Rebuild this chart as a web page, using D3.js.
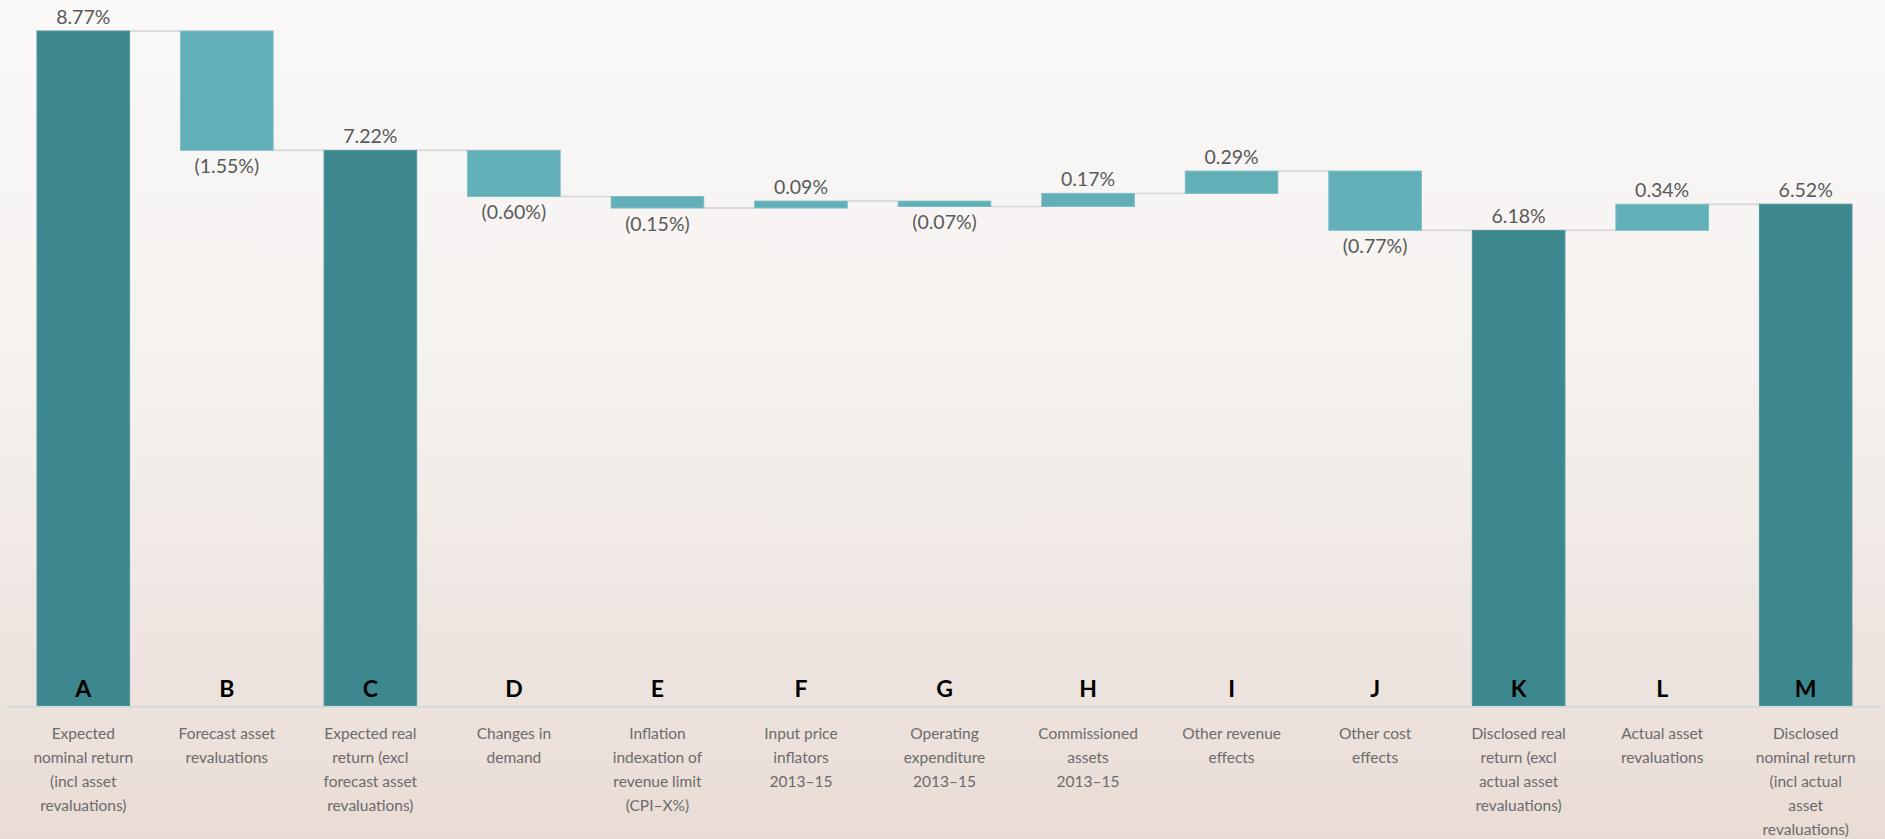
<!DOCTYPE html>
<html>
<head>
<meta charset="utf-8">
<script src="https://cdn.jsdelivr.net/npm/d3@7"></script>
<style>
  html, body { margin: 0; padding: 0; }
  body { width: 1885px; height: 839px; overflow: hidden; }
</style>
</head>
<body>
<svg id="chart" width="1885" height="839"></svg>
<script>
// waterfall steps
const letters = ["A","B","C","D","E","F","G","H","I","J","K","L","M"];
const values = [8.77, -1.55, 7.22, -0.60, -0.15, 0.09, -0.07, 0.17, 0.29, -0.77, 6.18, 0.34, 6.52];
const isTotal = [true, false, true, false, false, false, false, false, false, false, true, false, true];
const categories = [
  ["Expected", "nominal return", "(incl asset", "revaluations)"],
  ["Forecast asset", "revaluations"],
  ["Expected real", "return (excl", "forecast asset", "revaluations)"],
  ["Changes in", "demand"],
  ["Inflation", "indexation of", "revenue limit", "(CPI\u2013X%)"],
  ["Input price", "inflators", "2013\u201315"],
  ["Operating", "expenditure", "2013\u201315"],
  ["Commissioned", "assets", "2013\u201315"],
  ["Other revenue", "effects"],
  ["Other cost", "effects"],
  ["Disclosed real", "return (excl", "actual asset", "revaluations)"],
  ["Actual asset", "revaluations"],
  ["Disclosed", "nominal return", "(incl actual", "asset", "revaluations)"]
];

const W = 1885, H = 839;
const baseY = 706;
const font = "Lato, 'Open Sans', sans-serif";

var svg = d3.select("#chart");

// background wash
var defs = svg.append("defs");
var grad = defs.append("linearGradient")
    .attr("id", "bg").attr("x1", 0).attr("y1", 0).attr("x2", 0).attr("y2", 1);
grad.append("stop").attr("offset", "0%").attr("stop-color", "#faf9f8");
grad.append("stop").attr("offset", "45%").attr("stop-color", "#f5f1ef");
grad.append("stop").attr("offset", "100%").attr("stop-color", "#e9dcd5");
svg.append("rect").attr("width", W).attr("height", H).attr("fill", "url(#bg)");

// running totals -> start/end of each bar
var running = 0;
const steps = values.map((v, i) => {
  var s, e;
  if (isTotal[i]) { s = 0; e = v; running = v; }
  else { s = running; e = running + v; running = e; }
  return {letter: letters[i], value: v, total: isTotal[i], start: s, end: e, cat: categories[i]};
});

x = d3.scaleBand()
    .domain(letters)
    .range([4, W])
    .paddingInner(0.355)
    .paddingOuter(0.23);

y = d3.scaleLinear()
    .domain([0, 8.77])
    .range([baseY, 31]);

fmt = d3.format(".2f");
label = v => v < 0 ? "(" + fmt(-v) + "%)" : fmt(v) + "%";

// connectors between bars
var conn = svg.append("g");
steps.forEach((d, i) => {
  if (i == steps.length - 1) return;
  var nxt = letters[i + 1];
  conn.append("line")
      .attr("x1", x(d.letter) + x.bandwidth())
      .attr("x2", x(nxt))
      .attr("y1", y(d.end)).attr("y2", y(d.end))
      .attr("stroke", "#dcdcdc")
      .attr("stroke-width", 2);
});

// bars
svg.append("g").selectAll("rect")
    .data(steps)
    .enter().append("rect")
    .attr("x", d => x(d.letter))
    .attr("width", x.bandwidth())
    .attr("y", d => y(Math.max(d.start, d.end)))
    .attr("height", d => Math.abs(y(d.start) - y(d.end)))
    .attr("fill", d => d.total ? "#3d878e" : "#62afb8")
    .attr("stroke", d => d.total ? "#4f969c" : "#7bbfc6")
    .attr("stroke-width", 1);

// baseline
svg.append("line")
    .attr("x1", 8).attr("x2", 1880)
    .attr("y1", baseY + 1).attr("y2", baseY + 1)
    .attr("stroke", "#d3dadb")
    .attr("stroke-width", 2);

// value labels
svg.append("g").selectAll("text")
    .data(steps)
    .enter().append("text")
    .attr("x", d => x(d.letter) + x.bandwidth() / 2)
    .attr("y", d => d.value < 0 ? y(d.end) + 23 : y(d.end) - 7)
    .attr("text-anchor", "middle")
    .attr("font-family", font)
    .attr("font-size", 19.5)
    .attr("fill", "#595959")
    .text(d => label(d.value));

// letters inside the base of each column
svg.append("g").selectAll("text")
    .data(steps)
    .enter().append("text")
    .attr("x", d => x(d.letter) + x.bandwidth() / 2)
    .attr("y", baseY - 9)
    .attr("text-anchor", "middle")
    .attr("font-family", font)
    .attr("font-weight", "bold")
    .attr("font-size", 23)
    .attr("fill", "#000")
    .text(d => d.letter);

// category names under the axis
var cats = svg.append("g").selectAll("text")
    .data(steps)
    .enter().append("text")
    .attr("text-anchor", "middle")
    .attr("font-family", font)
    .attr("font-size", 15.5)
    .attr("fill", "#6b6b6b");
cats.each(function(d) {
  var t = d3.select(this);
  d.cat.forEach((ln, j) => {
    t.append("tspan")
        .attr("x", x(d.letter) + x.bandwidth() / 2)
        .attr("y", 739 + j * 24)
        .text(ln);
  });
});
</script>
</body>
</html>
